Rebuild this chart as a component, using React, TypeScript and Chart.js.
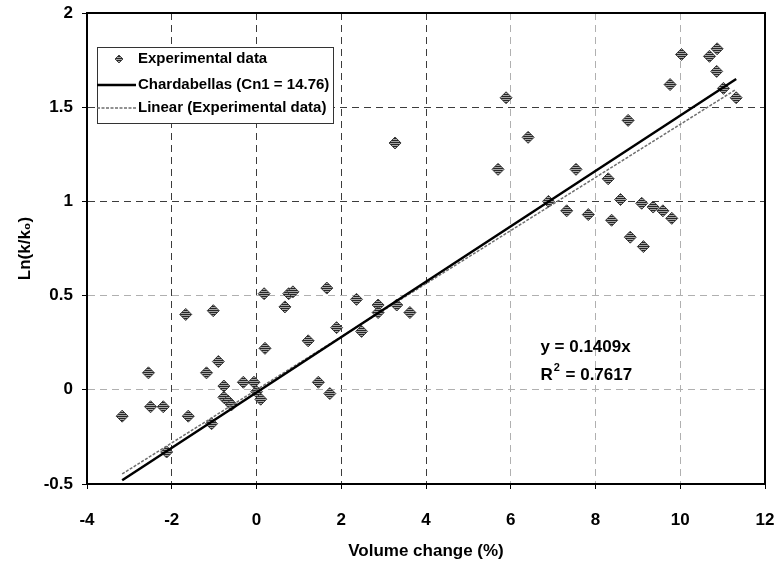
import React, { useEffect, useRef } from "react";
import { Chart, registerables } from "chart.js";

Chart.register(...registerables);

// Measured samples: volume change (%) and Ln(k/k0)
const EXP_X = [
  -3.17, -2.55, -2.5, -2.2, -2.12, -1.67, -1.61, -1.18, -1.06, -1.02,
  -0.9, -0.77, -0.77, -0.67, -0.59, -0.31, -0.06, 0.0, 0.1, 0.18,
  0.2, 0.67, 0.76, 0.86, 1.22, 1.46, 1.66, 1.73, 1.89, 2.36,
  2.48, 2.87, 2.87, 3.27, 3.31, 3.62, 5.7, 5.89, 6.41, 6.89,
  7.32, 7.54, 7.83, 8.3, 8.38, 8.59, 8.77, 8.82, 9.09, 9.13,
  9.36, 9.59, 9.76, 9.8, 10.03, 10.69, 10.86, 10.87, 11.02, 11.32,
];
const EXP_Y = [
  -0.14, 0.09, -0.09, -0.09, -0.33, 0.4, -0.14, 0.09, -0.18, 0.42,
  0.15, 0.02, -0.04, -0.06, -0.08, 0.04, 0.04, -0.01, -0.05, 0.51,
  0.22, 0.44, 0.51, 0.52, 0.26, 0.04, 0.54, -0.02, 0.33, 0.48,
  0.31, 0.45, 0.41, 1.31, 0.45, 0.41, 1.17, 1.55, 1.34, 1.0,
  0.95, 1.17, 0.93, 1.12, 0.9, 1.01, 1.43, 0.81, 0.99, 0.76,
  0.97, 0.95, 1.62, 0.91, 1.78, 1.77, 1.69, 1.81, 1.6, 1.55,
];

// Chardabellas model curve (Cn1 = 14.76)
const CHARD_X = [-3.17, 11.32];
const CHARD_Y = [-0.48, 1.65];

// Linear trend through the origin: y = 0.1409x, R² = 0.7617
const TREND_SLOPE = 0.1409;
const TREND_R2 = "0.7617";
const TREND_X = [-3.17, 11.32];

const X_TICKS = [-4, -2, 0, 2, 4, 6, 8, 10, 12];
const Y_TICKS = [-0.5, 0, 0.5, 1, 1.5, 2];

const LABEL_EXP = "Experimental data";
const LABEL_CHARD = "Chardabellas (Cn1 = 14.76)";
const LABEL_TREND = "Linear (Experimental data)";

const FONT = "'Liberation Sans', Arial, Helvetica, sans-serif";

function makeHatch(): CanvasPattern | string {
  const c = document.createElement("canvas");
  c.width = 4;
  c.height = 4;
  const g = c.getContext("2d");
  if (!g) return "#777";
  g.fillStyle = "#a4a4a4";
  g.fillRect(0, 0, 4, 4);
  g.fillStyle = "#262626";
  g.fillRect(0, 0, 4, 1);
  g.fillRect(0, 2, 4, 1);
  const p = g.createPattern(c, "repeat");
  return p || "#777";
}

function diamond(ctx: CanvasRenderingContext2D, x: number, y: number, r: number) {
  ctx.beginPath();
  ctx.moveTo(x - r, y);
  ctx.lineTo(x, y - r);
  ctx.lineTo(x + r, y);
  ctx.lineTo(x, y + r);
  ctx.closePath();
}

// Frame around the plotting area
const framePlugin = {
  id: "frame",
  afterDraw(chart: any) {
    const { ctx, chartArea: a } = chart;
    ctx.save();
    ctx.strokeStyle = "#000";
    ctx.lineWidth = 2;
    ctx.strokeRect(a.left, a.top, a.right - a.left, a.bottom - a.top);
    ctx.restore();
  },
};

// Boxed legend inside the plot, plus the trend equation
const annotatePlugin = {
  id: "annotate",
  afterDraw(chart: any) {
    const { ctx, chartArea: a, scales } = chart;
    const ds = chart.data.datasets;
    ctx.save();

    const bx = a.left + 10;
    const by = a.top + 34;
    const bw = 236;
    const bh = 76;
    ctx.fillStyle = "#fff";
    ctx.fillRect(bx, by, bw, bh);
    ctx.strokeStyle = "#333";
    ctx.lineWidth = 1;
    ctx.strokeRect(bx + 0.5, by + 0.5, bw, bh);

    ctx.font = `bold 15px ${FONT}`;
    ctx.textBaseline = "middle";
    ctx.textAlign = "left";
    const tx = bx + 41;
    const rows = [by + 12, by + 38, by + 61];

    // marker row
    ctx.fillStyle = ds[0].backgroundColor;
    ctx.strokeStyle = "#444";
    diamond(ctx, bx + 22, rows[0], 4);
    ctx.fill();
    ctx.stroke();
    ctx.fillStyle = "#000";
    ctx.fillText(ds[0].label, tx, rows[0]);

    // model line row
    ctx.strokeStyle = ds[1].borderColor;
    ctx.lineWidth = ds[1].borderWidth;
    ctx.beginPath();
    ctx.moveTo(bx, rows[1]);
    ctx.lineTo(tx - 2, rows[1]);
    ctx.stroke();
    ctx.fillText(ds[1].label, tx, rows[1]);

    // trend line row
    ctx.strokeStyle = ds[2].borderColor;
    ctx.lineWidth = ds[2].borderWidth;
    ctx.setLineDash(ds[2].borderDash);
    ctx.beginPath();
    ctx.moveTo(bx, rows[2]);
    ctx.lineTo(tx - 2, rows[2]);
    ctx.stroke();
    ctx.setLineDash([]);
    ctx.fillText(ds[2].label, tx, rows[2]);

    // equation
    const ex = scales.x.getPixelForValue(6.7);
    const ey1 = scales.y.getPixelForValue(0.225);
    const ey2 = scales.y.getPixelForValue(0.078);
    ctx.font = `bold 17px ${FONT}`;
    ctx.fillText(`y = ${TREND_SLOPE}x`, ex, ey1);
    ctx.fillText("R", ex, ey2);
    const rw = ctx.measureText("R").width;
    ctx.font = `bold 11px ${FONT}`;
    ctx.fillText("2", ex + rw + 1, ey2 - 7);
    const sw = ctx.measureText("2").width;
    ctx.font = `bold 17px ${FONT}`;
    ctx.fillText(` = ${TREND_R2}`, ex + rw + sw + 2, ey2);

    ctx.restore();
  },
};

export default function App() {
  const canvasRef = useRef<HTMLCanvasElement | null>(null);

  useEffect(() => {
    document.body.style.margin = "0";
    const canvas = canvasRef.current;
    if (!canvas) return;
    const hatch = makeHatch();

    const expData = EXP_X.map((x, i) => ({ x, y: EXP_Y[i] }));
    const chardData = CHARD_X.map((x, i) => ({ x, y: CHARD_Y[i] }));
    const trendData = TREND_X.map((x) => ({ x, y: TREND_SLOPE * x }));

    const darkX = new Set([-2, 0, 2, 4]);
    const darkY = new Set([1, 1.5]);
    const fmt = (v: any) => String(Number(v));

    const chart = new Chart(canvas, {
      type: "scatter",
      data: {
        datasets: [
          {
            label: LABEL_EXP,
            data: expData,
            pointStyle: "rectRot",
            pointRadius: 6,
            backgroundColor: hatch as any,
            borderColor: "#3a3a3a",
            borderWidth: 1,
            showLine: false,
            order: 3,
          },
          {
            label: LABEL_CHARD,
            data: chardData,
            showLine: true,
            borderColor: "#000",
            borderWidth: 2.5,
            pointRadius: 0,
            order: 1,
          },
          {
            label: LABEL_TREND,
            data: trendData,
            showLine: true,
            borderColor: "#6e6e6e",
            borderWidth: 1.5,
            borderDash: [3, 1.5],
            pointRadius: 0,
            order: 2,
          },
        ],
      },
      options: {
        animation: false,
        responsive: true,
        maintainAspectRatio: false,
        layout: { padding: { top: 13, right: 14, left: 0, bottom: 0 } },
        plugins: {
          legend: { display: false },
          tooltip: { enabled: false },
        },
        scales: {
          x: {
            type: "linear",
            min: -4,
            max: 12,
            afterFit: (s: any) => {
              s.height = 81;
              s.paddingLeft = 0;
              s.paddingRight = 0;
            },
            afterBuildTicks: (s: any) => {
              s.ticks = X_TICKS.map((v) => ({ value: v }));
            },
            border: { display: true, color: "#000", width: 2, dash: [7, 5] },
            grid: {
              color: (c: any) =>
                darkX.has(c.tick?.value) ? "#3c3c3c" : "#b0b0b0",
              lineWidth: 1,
              tickLength: 5,
              tickColor: "#000",
              tickWidth: 1,
            },
            ticks: {
              color: "#000",
              padding: 21,
              callback: fmt,
              font: { family: FONT, size: 17, weight: "bold" },
            },
            title: {
              display: true,
              text: "Volume change (%)",
              color: "#000",
              font: { family: FONT, size: 17, weight: "bold" },
              padding: { top: 0, bottom: 3 },
            },
          },
          y: {
            type: "linear",
            min: -0.5,
            max: 2,
            afterFit: (s: any) => {
              s.width = 87;
              s.paddingTop = 0;
              s.paddingBottom = 0;
            },
            afterBuildTicks: (s: any) => {
              s.ticks = Y_TICKS.map((v) => ({ value: v }));
            },
            border: { display: true, color: "#000", width: 2, dash: [7, 5] },
            grid: {
              color: (c: any) =>
                darkY.has(c.tick?.value) ? "#3c3c3c" : "#b0b0b0",
              lineWidth: 1,
              tickLength: 5,
              tickColor: "#000",
              tickWidth: 1,
            },
            ticks: {
              color: "#000",
              padding: 9,
              callback: fmt,
              font: { family: FONT, size: 17, weight: "bold" },
            },
            title: {
              display: true,
              text: "Ln(k/k₀)",
              color: "#000",
              font: { family: FONT, size: 17, weight: "bold" },
              padding: { top: 15, bottom: 0 },
            },
          },
        },
      },
      plugins: [framePlugin, annotatePlugin],
    } as any);

    return () => chart.destroy();
  }, []);

  return (
    <div style={{ position: "relative", width: 779, height: 565 }}>
      <canvas ref={canvasRef} />
    </div>
  );
}
